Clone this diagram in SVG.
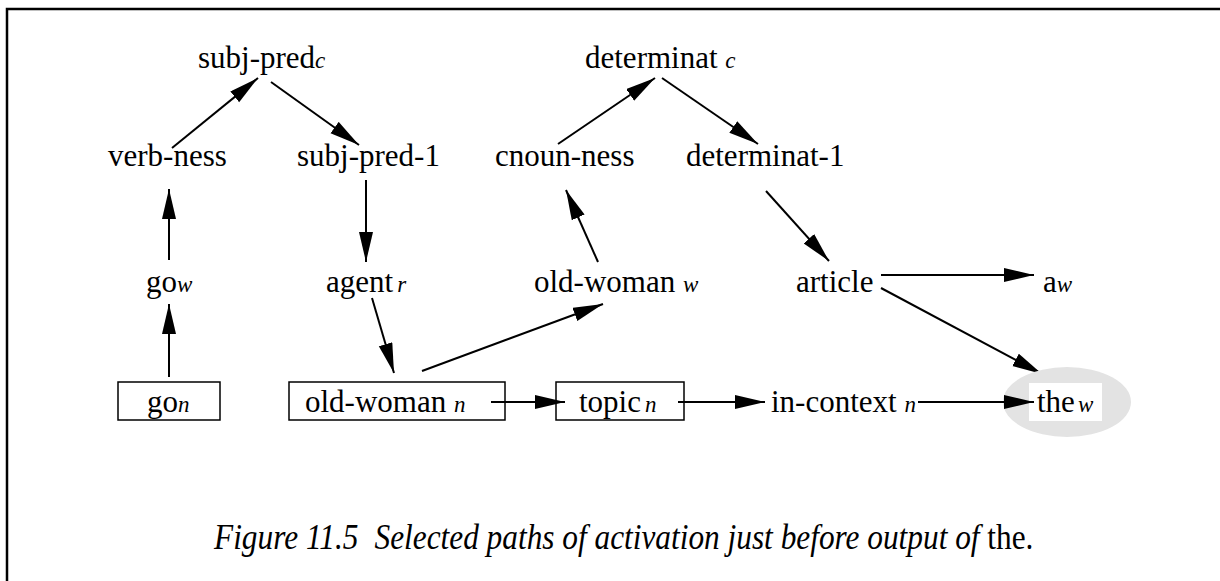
<svg xmlns="http://www.w3.org/2000/svg" width="1220" height="581" viewBox="0 0 1220 581">
<style>
text{font-family:"Liberation Serif","Times New Roman",serif;font-size:31px;fill:#000}
.s{font-style:italic;font-size:23px}
.cap{font-style:italic;font-size:35px}
.box{fill:#fff;stroke:#000;stroke-width:1.5}
.e{fill:none;stroke:#000;stroke-width:2;marker-end:url(#ah)}
</style>
<defs>
<marker id="ah" markerUnits="userSpaceOnUse" markerWidth="32" markerHeight="16" refX="30" refY="7" orient="auto">
<path d="M0,0 L30,7 L0,14 z" fill="#000"/>
</marker>
</defs>
<rect width="1220" height="581" fill="#fff"/>
<path d="M7,581 V9 H1220" fill="none" stroke="#000" stroke-width="2.5"/>
<g id="connectors">
<line class="e" x1="172" y1="148" x2="258" y2="78"/>
<line class="e" x1="271" y1="82" x2="359" y2="145"/>
<line class="e" x1="558" y1="144" x2="655" y2="78"/>
<line class="e" x1="662" y1="78" x2="758" y2="144"/>
<line class="e" x1="169" y1="260" x2="169" y2="189"/>
<line class="e" x1="366" y1="180" x2="366" y2="262"/>
<line class="e" x1="598" y1="262" x2="566" y2="190"/>
<line class="e" x1="766" y1="191" x2="829" y2="261"/>
<line class="e" x1="169" y1="377" x2="169" y2="304"/>
<line class="e" x1="372" y1="298" x2="394" y2="373"/>
<line class="e" x1="422" y1="371" x2="603" y2="304"/>
<line class="e" x1="881" y1="275" x2="1034" y2="275"/>
<line class="e" x1="881" y1="288" x2="1042" y2="374"/>
</g>
<g id="n-subjpred"><text x="198" y="68">subj-pred<tspan class="s">c</tspan></text></g>
<g id="n-determinat"><text x="585" y="68">determinat <tspan class="s">c</tspan></text></g>
<g id="n-verbness"><text x="108" y="166">verb-ness</text></g>
<g id="n-subjpred1"><text x="297" y="166">subj-pred-1</text></g>
<g id="n-cnounness"><text x="495" y="166">cnoun-ness</text></g>
<g id="n-determinat1"><text x="686" y="166">determinat-1</text></g>
<g id="n-gow"><text x="146" y="292">go<tspan class="s">w</tspan></text></g>
<g id="n-agent"><text x="326" y="292">agent<tspan class="s" dx="4">r</tspan></text></g>
<g id="n-oldwomanw"><text x="534" y="292">old-woman <tspan class="s">w</tspan></text></g>
<g id="n-article"><text x="796" y="292">article</text></g>
<g id="n-aw"><text x="1043" y="292">a<tspan class="s">w</tspan></text></g>
<g id="n-gon"><rect class="box" x="118" y="382" width="102" height="38"/><text x="147" y="412">go<tspan class="s">n</tspan></text></g>
<g id="n-oldwomann"><rect class="box" x="289" y="382" width="216" height="38"/><text x="305" y="412">old-woman <tspan class="s">n</tspan></text></g>
<g id="n-topic"><rect class="box" x="556" y="382" width="128" height="38"/><text x="579" y="412">topic<tspan class="s" dx="4">n</tspan></text></g>
<g id="n-incontext"><text x="771" y="412">in-context <tspan class="s">n</tspan></text></g>
<g id="n-the"><ellipse cx="1067" cy="402" rx="64" ry="35" fill="#e3e3e3"/><rect x="1029" y="383" width="73" height="38" fill="#fff"/><text x="1037" y="412">the<tspan class="s" dx="3">w</tspan></text></g>
<g id="connectors-2">
<line class="e" x1="491" y1="402" x2="565" y2="402"/>
<line class="e" x1="678" y1="402" x2="765" y2="402"/>
<line class="e" x1="918" y1="402" x2="1034" y2="402"/>
</g>
<text class="cap" transform="translate(214,549) scale(0.895,1)">Figure 11.5<tspan dx="18">Selected paths of activation just before output of </tspan><tspan style="font-style:normal">the.</tspan></text>
</svg>
